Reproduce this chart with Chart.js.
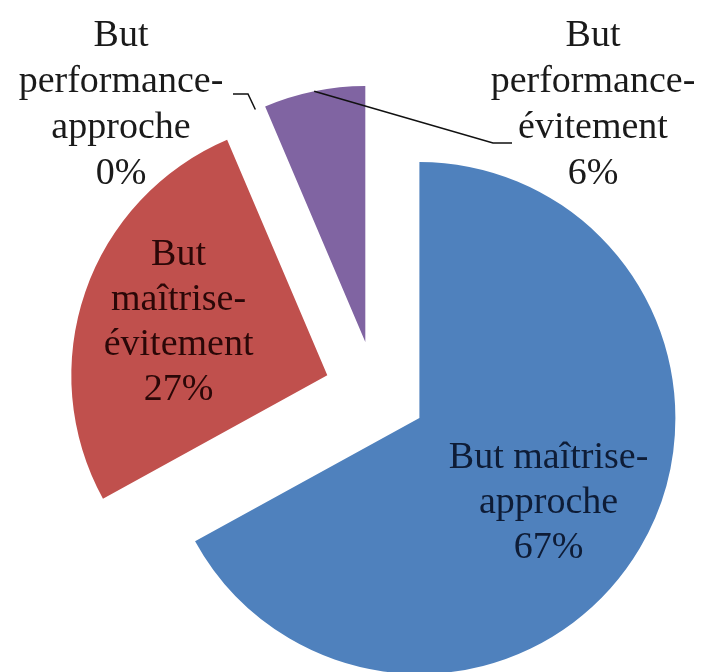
<!DOCTYPE html>
<html>
<head>
<meta charset="utf-8">
<script src="https://cdn.jsdelivr.net/npm/chart.js@4"></script>
<style>
html,body{margin:0;padding:0;background:#fff;}
canvas{display:block;}
</style>
</head>
<body>
<canvas id="c" width="705" height="672"></canvas>
<script>
// ---- data ----
const categories = ['But maîtrise-approche', 'But maîtrise-évitement', 'But performance-approche', 'But performance-évitement'];
const values = [67, 26.6, 0, 6.4];
const nameLines = [['But maîtrise-', 'approche'], ['But', 'maîtrise-', 'évitement'], ['But', 'performance-', 'approche'], ['But', 'performance-', 'évitement']];
const colors = ['#4F81BD', '#C0504D', '#9BBB59', '#8064A2'];

// ---- style / layout ----
const RADIUS = 256;
const EXPLODE = 51;              // px shift of each slice
const OFFSET_DIV = 4;            // Chart.js v4 divides arc offset by 4
const FONT = '38px "Liberation Serif", "Times New Roman", serif';
const LINE_H = 45;
const insideLabels = {0: {k: 0.605, dDeg: 2.9, color: '#0e1c36'}, 1: {k: 0.617, dDeg: 0.6, color: '#2a0707'}};
const outsideLabels = {
  2: {cx: 121, baseline: 46, lh: 46, elbow: [[248, 94], [233, 94]]},
  3: {cx: 593, baseline: 46, lh: 46, elbow: [[493, 143], [512, 143]]}
};

function vertexOf(el) {
  const mid = (el.startAngle + el.endAngle) / 2;
  return {x: el.x + Math.cos(mid) * EXPLODE, y: el.y + Math.sin(mid) * EXPLODE, mid};
}

// keep every exploded slice at the same radius and true angles
const radiusFix = {
  id: 'radiusFix',
  afterDatasetUpdate(chart, args) {
    const meta = chart.getDatasetMeta(args.index);
    meta.data.forEach(el => {
      const c = el.endAngle - el.startAngle;
      if (c <= 0) return;
      const fix = 1 - Math.sin(Math.min(Math.PI, c));
      const off = EXPLODE * fix;
      el.outerRadius = RADIUS - off;
      const ao = off / (2 * Math.PI * RADIUS);
      el.startAngle -= ao;
      el.endAngle += ao;
    });
  }
};

const labelPlugin = {
  id: 'labelPlugin',
  afterDraw(chart) {
    const ctx = chart.ctx;
    const meta = chart.getDatasetMeta(0);
    ctx.save();
    ctx.font = FONT;
    ctx.textAlign = 'center';
    const put = (t, x, y, col) => { ctx.fillStyle = col; ctx.fillText(t, x, y); };
    meta.data.forEach((el, i) => {
      const lines = nameLines[i].concat([Math.round(values[i]) + '%']);
      const v = vertexOf(el);
      if (insideLabels[i]) {
        const L = insideLabels[i];
        const a = v.mid + L.dDeg * Math.PI / 180;
        const cx = v.x + Math.cos(a) * RADIUS * L.k;
        const cy = v.y + Math.sin(a) * RADIUS * L.k;
        ctx.textBaseline = 'middle';
        lines.forEach((t, j) => put(t, cx, cy + (j - (lines.length - 1) / 2) * LINE_H, L.color));
      } else if (outsideLabels[i]) {
        const L = outsideLabels[i];
        ctx.textBaseline = 'alphabetic';
        lines.forEach((t, j) => put(t, L.cx, L.baseline + j * L.lh, '#1a1a1a'));
        // leader line from the slice's outer edge
        const ax = v.x + Math.cos(v.mid) * RADIUS;
        const ay = v.y + Math.sin(v.mid) * RADIUS;
        ctx.beginPath();
        ctx.strokeStyle = '#111';
        ctx.lineWidth = 1.5;
        ctx.moveTo(ax, ay);
        L.elbow.forEach(p => ctx.lineTo(p[0], p[1]));
        ctx.stroke();
      }
    });
    ctx.restore();
  }
};

new Chart(document.getElementById('c').getContext('2d'), {
  type: 'pie',
  data: {
    labels: categories,
    datasets: [{
      data: values,
      backgroundColor: colors,
      borderWidth: 0,
      offset: EXPLODE * OFFSET_DIV
    }]
  },
  options: {
    responsive: false,
    animation: false,
    radius: RADIUS,
    events: [],
    layout: {padding: {left: 46, top: 112, right: 0, bottom: 0}},
    plugins: {legend: {display: false}, tooltip: {enabled: false}}
  },
  plugins: [radiusFix, labelPlugin]
});
</script>
</body>
</html>
